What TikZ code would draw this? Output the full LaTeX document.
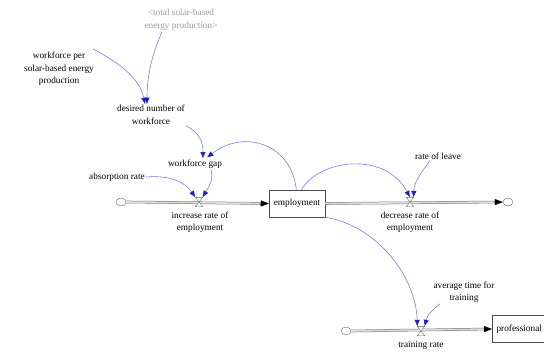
\documentclass[tikz,border=0pt]{standalone}
\usepackage{fontspec}
\setmainfont{Liberation Serif}
\usetikzlibrary{arrows.meta,shapes.geometric,calc}
\definecolor{linkc}{RGB}{125,125,225}
\definecolor{headc}{RGB}{30,30,190}
\tikzset{
  var/.style={align=center,inner sep=1pt,font=\fontsize{9.3}{12.5}\selectfont},
  shadow/.style={var,text=gray!80},
  stock/.style={draw=black!70,line width=0.5pt,minimum width=56pt,minimum height=27pt,inner sep=1pt,font=\fontsize{9.3}{11}\selectfont},
  cloudn/.style={ellipse,draw=black!60,line width=0.4pt,minimum width=10pt,minimum height=8pt,inner sep=0pt},
  valve/.style={minimum width=7pt,minimum height=9pt,inner sep=0pt},
  link/.style={linkc,line width=0.6pt,-{Latex[length=6.5pt,width=5.5pt,fill=headc,color=headc]}},
  pipe/.style={draw=black!55,double=gray!25,double distance=1.6pt,line width=0.5pt},
  pipehead/.style={black!70,line width=0.2pt,-{Triangle[length=8pt,width=6pt,black]}},
}
\begin{document}
\begin{tikzpicture}[x=1pt,y=-1pt]
\useasboundingbox (0,0) rectangle (544,353);
% variables
\node[shadow] (tse) at (181,20) {<total solar-based\\energy production>};
\node[var] (wps) at (59,69) {workforce per\\solar-based energy\\production};
\node[var] (dnw) at (151,115) {desired number of\\workforce};
\node[var] (wg) at (195,164) {workforce gap};
\node[var] (ar) at (117,177) {absorption rate};
\node[var] (rol) at (438,156) {rate of leave};
\node[var] (att) at (464,292) {average time for\\training};
% stocks
\node[stock] (emp) at (297,203.5) {employment};
\node[stock,anchor=west,minimum width=54pt] (prof) at (492,329) {professional};
% clouds
\node[cloudn] (c1) at (121,202) {};
\node[cloudn] (c2) at (508,202) {};
\node[cloudn] (c3) at (346,331) {};
% valves
\node[valve] (v1) at (199,202) {};
\node[valve] (v2) at (410,202) {};
\node[valve] (v3) at (421,331) {};
% pipes
\draw[pipe] (c1.east) -- ($(emp.west)!7pt!(c1)$);
\draw[pipehead] ($(emp.west)!9pt!(c1)$) -- (emp.west);
\draw[pipe] (emp.east) -- ($(c2.west)!7pt!(emp)$);
\draw[pipehead] ($(c2.west)!9pt!(emp)$) -- (c2.west);
\draw[pipe] (c3.east) -- ($(prof.west)!7pt!(c3)$);
\draw[pipehead] ($(prof.west)!9pt!(c3)$) -- (prof.west);
% valve glyphs
\foreach \v in {v1,v2,v3}{
  \draw[black!60,line width=0.4pt,fill=white] (\v.north west) -- (\v.north east) -- (\v.south west) -- (\v.south east) -- cycle;
}
% flow labels
\node[var] (irl) at (200,222) {increase rate of\\employment};
\node[var] (drl) at (410,222) {decrease rate of\\employment};
\node[var] (trl) at (421,345) {training rate};
% links
\draw[link] ($(tse.south)+(-19,0)$) .. controls (152,55) and (147,75) .. ($(dnw.north)+(-4,0)$);
\draw[link] ($(wps.north east)+(-2,-2)$) .. controls (118,62) and (140,78) .. ($(dnw.north)+(-6,0)$);
\draw[link] (dnw.south east) .. controls (200,133) and (203,142) .. ($(wg.north)+(8,0)$);
\draw[link] (emp.93) .. controls (292,145) and (245,128) .. ($(wg.north)+(12,-1)$);
\draw[link] ($(wg.south)+(16,0)$) .. controls (214,180) and (208,188) .. (v1.north east);
\draw[link] (ar.east) .. controls (170,175) and (185,182) .. (v1.north west);
\draw[link] (emp.72) .. controls (318,160) and (385,150) .. (v2.north);
\draw[link] ($(rol.south)+(-8,0)$) .. controls (425,168) and (414,180) .. (v2.north east);
\draw[link] (emp.south east) .. controls (375,225) and (416,275) .. (v3.north west);
\draw[link] ($(att.south)+(-24,0)$) .. controls (436,308) and (428,312) .. (v3.north east);
\end{tikzpicture}
\end{document}
